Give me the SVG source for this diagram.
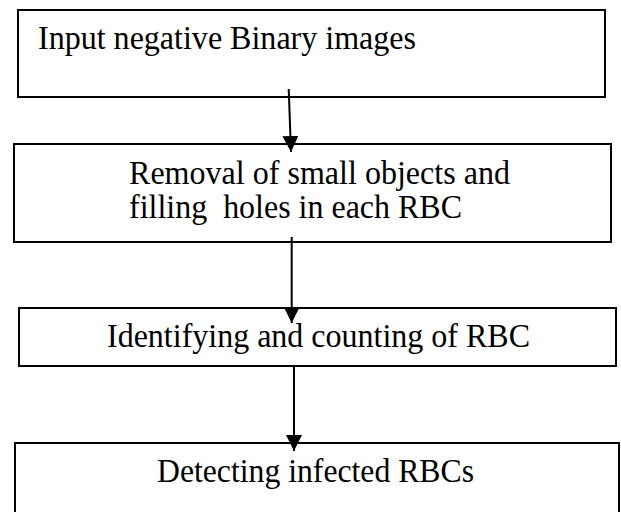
<svg xmlns="http://www.w3.org/2000/svg" width="621" height="512" viewBox="0 0 621 512">
<style>
.box{fill:#fff;stroke:#000;stroke-width:2}
.lbl{font-family:"Liberation Serif","Times New Roman",serif;font-size:34px;fill:#000;white-space:pre}
.conn{stroke:#000;stroke-width:2;fill:none;marker-end:url(#ah)}
</style>
<defs>
<marker id="ah" markerUnits="userSpaceOnUse" markerWidth="16" markerHeight="16" refX="15" refY="7.5" orient="auto" viewBox="0 0 15 15">
<path d="M0,0 L15,7.5 L0,15 z" fill="#000"/>
</marker>
</defs>
<rect width="621" height="512" fill="#fff"/>
<g id="n1"><rect class="box" x="18" y="10" width="587" height="87"/><text class="lbl" x="38" y="49" textLength="378" lengthAdjust="spacingAndGlyphs">Input negative Binary images</text></g>
<g id="n2"><rect class="box" x="14" y="144" width="597" height="98"/><text class="lbl" x="129" y="184" textLength="381" lengthAdjust="spacingAndGlyphs">Removal of small objects and</text><text class="lbl" x="129" y="218" xml:space="preserve" textLength="333" lengthAdjust="spacingAndGlyphs">filling  holes in each RBC</text></g>
<g id="n3"><rect class="box" x="19" y="308" width="597" height="58"/><text class="lbl" x="107" y="347" textLength="423" lengthAdjust="spacingAndGlyphs">Identifying and counting of RBC</text></g>
<g id="n4"><rect class="box" x="15" y="443" width="604" height="90"/><text class="lbl" x="157" y="482" textLength="317" lengthAdjust="spacingAndGlyphs">Detecting infected RBCs</text></g>
<g id="connectors">
<line class="conn" x1="288.7" y1="89" x2="291" y2="152"/>
<line class="conn" x1="291.7" y1="237" x2="291.7" y2="323"/>
<line class="conn" x1="294" y1="366" x2="294" y2="451"/>
</g>
</svg>
